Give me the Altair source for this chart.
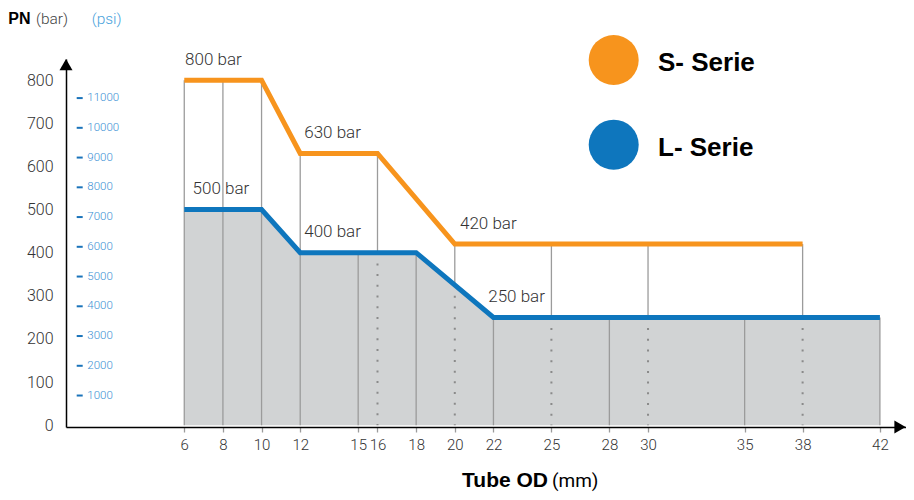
import altair as alt
import pandas as pd

# ---- data ----
s_sizes = [6, 8, 10, 12, 16, 20, 25, 30, 38]
s_pn = [800, 800, 800, 630, 630, 420, 420, 420, 420]
l_at_s = [500, 500, 500, 400, 400, 325, 250, 250, 250]   # L-line height at the S sizes
l_sizes = [6, 8, 10, 12, 15, 18, 22, 28, 35, 42]
l_pn = [500, 500, 500, 400, 400, 400, 250, 250, 250, 250]

x_ticks = [6, 8, 10, 12, 15, 16, 18, 20, 22, 25, 28, 30, 35, 38, 42]
y_ticks = [0, 100, 200, 300, 400, 500, 600, 700, 800]
psi_ticks = [1000, 2000, 3000, 4000, 5000, 6000, 7000, 8000, 9000, 10000, 11000]

label_tube = [6.04, 6.43, 12.21, 12.21, 20.27, 21.73]
label_pn = [800, 500, 630, 400, 420, 250]

series_names = ["S- Serie", "L- Serie"]
series_colors = ["#f7941d", "#0e76bd"]

BAR_PER_PSI = 1 / 14.5038
LIGHT = "Roboto"
BOLD = "Liberation Sans"

# ---- tables ----
s_df = pd.DataFrame({"tube": s_sizes, "pn": s_pn})
l_df = pd.DataFrame({"tube": l_sizes, "pn": l_pn})
low_rules = pd.DataFrame({"tube": l_sizes, "pn": [0] * len(l_sizes), "pn2": l_pn})
high_rules = pd.DataFrame({"tube": s_sizes, "pn": l_at_s, "pn2": s_pn})
dot_rules = pd.DataFrame(
    [{"tube": t, "pn": l, "pn2": 0} for t, l in zip(s_sizes, l_at_s) if t not in l_sizes]
)
labels_df = pd.DataFrame({"tube": label_tube, "pn": label_pn,
                          "text": [f"{v} bar" for v in label_pn]})
psi_df = pd.DataFrame({"pn": [p * BAR_PER_PSI for p in psi_ticks],
                       "text": [str(p) for p in psi_ticks]})
one = pd.DataFrame({"a": [0]})

x_scale = alt.Scale(domain=[-0.12, 43.35], nice=False, zero=False)
y_scale = alt.Scale(domain=[-4, 849], nice=False, zero=False)

x_axis = alt.Axis(values=x_ticks, title=None, grid=False, domainColor="black",
                  domainWidth=1.5, tickColor="#9b9b9b", tickSize=5, tickWidth=1.3,
                  labelFontSize=15, labelColor="#333333", labelFont=LIGHT,
                  labelFontWeight=300, labelPadding=5, labelOverlap=False,
                  labelFlush=False)
y_axis = alt.Axis(values=y_ticks, title=None, grid=False, ticks=False,
                  domainColor="black", domainWidth=1.5, labelFontSize=16,
                  labelColor="#333333", labelFont=LIGHT, labelFontWeight=300,
                  labelPadding=13)

X = alt.X("tube:Q", scale=x_scale, axis=x_axis)
Y = alt.Y("pn:Q", scale=y_scale, axis=y_axis)

area = alt.Chart(l_df).mark_area(color="#d1d3d4").encode(x=X, y=Y, y2=alt.datum(0))

rule_style = dict(color="#9b9b9b", strokeWidth=1.3)
low = alt.Chart(low_rules).mark_rule(**rule_style).encode(x=X, y=Y, y2="pn2:Q")
high = alt.Chart(high_rules).mark_rule(**rule_style).encode(x=X, y=Y, y2="pn2:Q")
dots = alt.Chart(dot_rules).mark_rule(color="#8a8a8a", strokeWidth=2,
                                      strokeDash=[2, 8.7]).encode(x=X, y=Y, y2="pn2:Q")

l_line = alt.Chart(l_df).mark_line(color=series_colors[1], strokeWidth=5,
                                   strokeJoin="miter").encode(x=X, y=Y)
s_line = alt.Chart(s_df).mark_line(color=series_colors[0], strokeWidth=5,
                                   strokeJoin="miter").encode(x=X, y=Y)

val_labels = alt.Chart(labels_df).mark_text(
    align="left", baseline="middle", dy=-20.5, fontSize=17, font=LIGHT,
    fontWeight=300, color="#333333").encode(x=X, y=Y, text="text:N")

psi_dash = alt.Chart(psi_df).mark_rule(color="#1a73ba", strokeWidth=2).encode(
    x=alt.value(10.7), x2=alt.value(16.7), y=Y)
psi_text = alt.Chart(psi_df).mark_text(
    align="left", baseline="middle", fontSize=11.5, font=LIGHT, fontWeight=300,
    color="#3a8fd4").encode(x=alt.value(21.3), y=Y, text="text:N")

# header texts
pn_t = alt.Chart(one).mark_text(text="PN", align="left", baseline="middle",
                                fontSize=16, font=BOLD, fontWeight="bold",
                                color="black").encode(x=alt.value(-57.7), y=alt.value(-40))
bar_t = alt.Chart(one).mark_text(text="(bar)", align="left", baseline="middle",
                                 fontSize=15.5, font=LIGHT, fontWeight=300,
                                 color="#444444").encode(x=alt.value(-30), y=alt.value(-40))
psi_t = alt.Chart(one).mark_text(text="(psi)", align="left", baseline="middle",
                                 fontSize=15.5, font=LIGHT, fontWeight=300,
                                 color="#4ba3dc").encode(x=alt.value(25.7), y=alt.value(-40))

# x title
tube_t = alt.Chart(one).mark_text(text="Tube OD", align="right", baseline="alphabetic",
                                  fontSize=21, font=BOLD, fontWeight="bold",
                                  color="black").encode(x=alt.value(482), y=alt.value(428))
mm_t = alt.Chart(one).mark_text(text="(mm)", align="left", baseline="alphabetic",
                                fontSize=19, font=LIGHT, fontWeight=400,
                                color="black").encode(x=alt.value(486), y=alt.value(428))

# axis arrow heads
arr_up = alt.Chart(one).mark_point(shape="triangle-up", filled=True, size=169,
                                   color="black", opacity=1).encode(
    x=alt.value(0), y=alt.value(5.6))
arr_right = alt.Chart(one).mark_point(shape="triangle-right", filled=True, size=169,
                                      color="black", opacity=1).encode(
    x=alt.value(834), y=alt.value(368))

# legend
legend_layers = []
for i, (name, col) in enumerate(zip(series_names, series_colors)):
    legend_layers.append(
        alt.Chart(one).mark_point(shape="circle", filled=True, size=2500,
                                  color=col, opacity=1).encode(
            x=alt.value(547.7), y=alt.value(1 + 84.7 * i)))
    legend_layers.append(
        alt.Chart(one).mark_text(text=name, align="left", baseline="middle",
                                 fontSize=26, font=BOLD, fontWeight="bold",
                                 color="black").encode(
            x=alt.value(592), y=alt.value(4 + 84.5 * i)))

chart = alt.layer(
    area, low, high, dots, l_line, s_line, val_labels, psi_dash, psi_text,
    pn_t, bar_t, psi_t, tube_t, mm_t, arr_up, arr_right, *legend_layers
).properties(
    width=840, height=368,
    autosize=alt.AutoSizeParams(type="none"),
    padding={"left": 58, "top": 51, "right": 0, "bottom": 65},
).configure_view(stroke=None)

chart.save("out.html", embed_options={"renderer": "svg", "actions": False})
